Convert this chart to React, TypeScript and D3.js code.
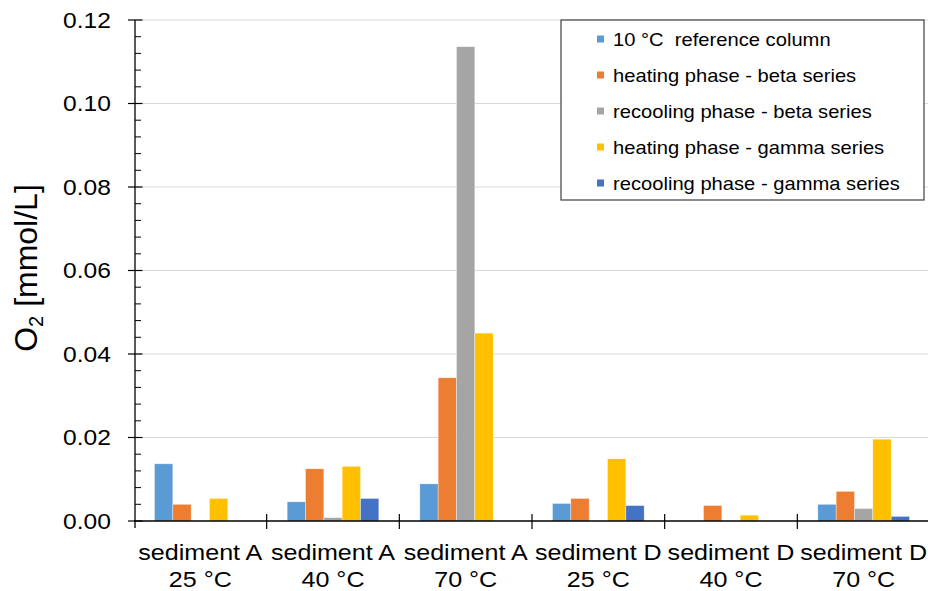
import React from "react";
import * as d3 from "d3";

const catLine1 = ["sediment A", "sediment A", "sediment A", "sediment D", "sediment D", "sediment D"];
const catLine2 = ["25 °C", "40 °C", "70 °C", "25 °C", "40 °C", "70 °C"];

const seriesNames = [
  "10 °C  reference column",
  "heating phase - beta series",
  "recooling phase - beta series",
  "heating phase - gamma series",
  "recooling phase - gamma series",
];
const seriesColors = ["#5B9BD5", "#ED7D31", "#A5A5A5", "#FFC000", "#4472C4"];

const ref10 = [0.0137, 0.0046, 0.0089, 0.0042, 0, 0.004];
const heatBeta = [0.004, 0.0125, 0.0343, 0.0054, 0.0037, 0.0071];
const recoolBeta = [0, 0.0008, 0.1136, 0, 0, 0.003];
const heatGamma = [0.0054, 0.0131, 0.045, 0.0149, 0.0014, 0.0196];
const recoolGamma = [0, 0.0054, 0, 0.0037, 0, 0.0011];
const seriesValues = [ref10, heatBeta, recoolBeta, heatGamma, recoolGamma];

const yMajorTicks = [0, 0.02, 0.04, 0.06, 0.08, 0.1, 0.12];

const W = 928;
const H = 591;
const FONT = "'Liberation Sans', Arial, Helvetica, sans-serif";
const SX = 1.12;

export default function App() {
  const x0 = d3
    .scaleBand<number>()
    .domain(d3.range(catLine1.length))
    .range([134, 930])
    .paddingInner(0.309)
    .paddingOuter(0.1545);
  const x1 = d3.scaleBand<number>().domain(d3.range(seriesNames.length)).range([0, x0.bandwidth()]);
  const y = d3.scaleLinear().domain([0, 0.12]).range([521, 20]);
  const step = x0.step();
  const catStart = (i: number) => 134 + i * step;
  const minorTicks = d3.range(0, 0.1201, 0.004).filter((v) => Math.abs((v / 0.02) - Math.round(v / 0.02)) > 1e-6);

  return (
    <svg
      width={W}
      height={H}
      style={{ position: "absolute", left: 0, top: 0, background: "#fff" }}
      fontFamily={FONT}
    >
      <rect x={0} y={0} width={W} height={H} fill="#fff" />
      {/* gridlines */}
      {yMajorTicks.slice(1).map((t) => (
        <line key={"g" + t} x1={135} x2={928} y1={y(t)} y2={y(t)} stroke="#D9D9D9" strokeWidth={1.2} />
      ))}
      {/* bars */}
      {seriesValues.map((vals, s) =>
        vals.map((v, i) =>
          v > 0 ? (
            <rect
              key={`b${s}-${i}`}
              x={(x0(i) as number) + (x1(s) as number)}
              y={y(v)}
              width={x1.bandwidth()}
              height={y(0) - y(v)}
              fill={seriesColors[s]}
              stroke="#ffffff"
              strokeOpacity={0.6}
              strokeWidth={0.6}
            />
          ) : null
        )
      )}
      {/* y axis */}
      <line x1={135} x2={135} y1={y(0.12)} y2={528} stroke="#000" strokeWidth={1.3} />
      {yMajorTicks.map((t) => (
        <line key={"yt" + t} x1={128} x2={142.5} y1={y(t)} y2={y(t)} stroke="#000" strokeWidth={1.2} />
      ))}
      {minorTicks.map((t) => (
        <line key={"ym" + t} x1={135} x2={141} y1={y(t)} y2={y(t)} stroke="#000" strokeWidth={1} />
      ))}
      {yMajorTicks.map((t) => (
        <g key={"yl" + t} transform={`translate(111,${y(t) + 7.8}) scale(${SX},1)`}>
          <text textAnchor="end" fontSize={22} fill="#000">
            {d3.format(".2f")(t)}
          </text>
        </g>
      ))}
      {/* y label */}
      <g transform={`translate(37,268) scale(0.98,1) rotate(-90)`}>
        <text textAnchor="middle" fontSize={32} fill="#000">
          O<tspan fontSize={20} dy={6}>2</tspan>
          <tspan dy={-6}> [mmol/L]</tspan>
        </text>
      </g>
      {/* x axis */}
      <line x1={134} x2={928} y1={y(0)} y2={y(0)} stroke="#000" strokeWidth={1.5} />
      {d3.range(1, catLine1.length + 1).map((i) => (
        <line key={"xt" + i} x1={catStart(i)} x2={catStart(i)} y1={514} y2={529} stroke="#000" strokeWidth={1.2} />
      ))}
      {catLine1.map((c, i) => {
        const cx = (x0(i) as number) + x0.bandwidth() / 2;
        return (
          <g key={"xl" + i}>
            <g transform={`translate(${cx},559.5) scale(1.14,1)`}>
              <text textAnchor="middle" fontSize={22} fill="#000">
                {c}
              </text>
            </g>
            <g transform={`translate(${cx},586.5) scale(1.14,1)`}>
              <text textAnchor="middle" fontSize={22} fill="#000">
                {catLine2[i]}
              </text>
            </g>
          </g>
        );
      })}
      {/* legend */}
      <rect x={561} y={20} width={363} height={180} fill="#fff" stroke="#404040" strokeWidth={1.2} />
      {seriesNames.map((n, s) => {
        const cy = 39 + s * 36;
        return (
          <g key={"lg" + s}>
            <rect x={597} y={cy - 3.5} width={7} height={7} fill={seriesColors[s]} />
            <g transform={`translate(613,${cy + 6.6}) scale(${SX},1)`}>
              <text fontSize={18} fill="#000" style={{ whiteSpace: "pre" }}>
                {n}
              </text>
            </g>
          </g>
        );
      })}
    </svg>
  );
}
